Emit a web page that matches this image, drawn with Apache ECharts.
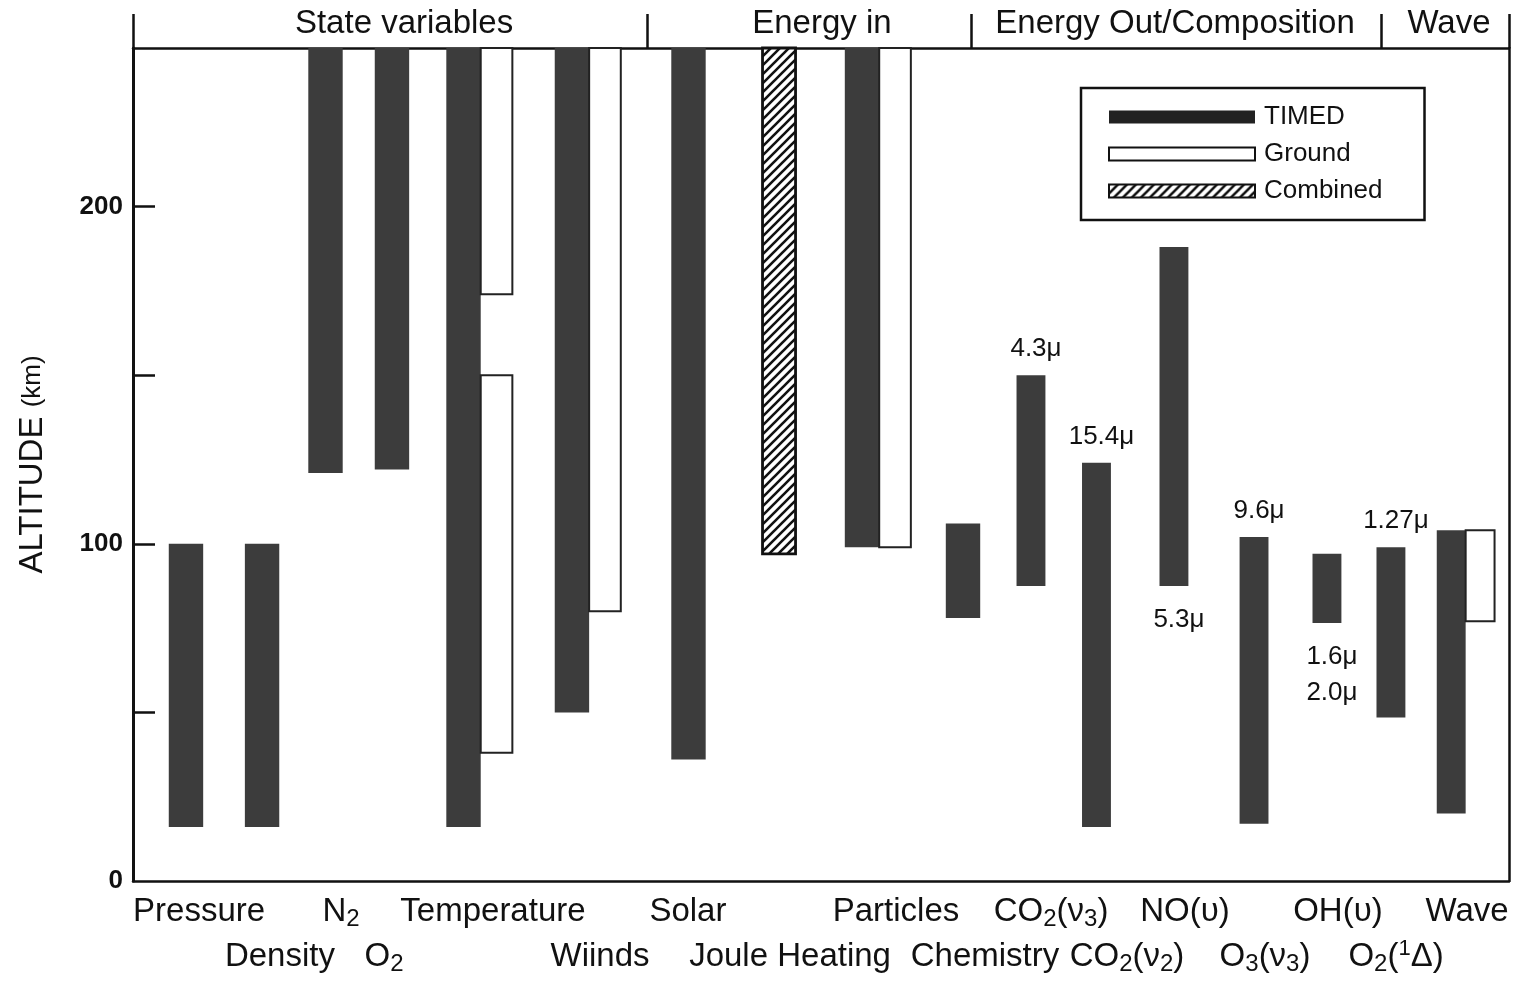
<!DOCTYPE html>
<html>
<head>
<meta charset="utf-8">
<script src="https://cdn.jsdelivr.net/npm/echarts@6/dist/echarts.min.js"></script>
<style>
html,body{margin:0;padding:0;background:#fff;}
#chart{width:1519px;height:986px;}
</style>
</head>
<body>
<div id="chart"></div>
<script>
// ---------------- data ----------------
const categories = ['Pressure','Density','N₂','O₂','Temperature','Wiinds','Solar','Joule Heating','Particles','Chemistry','CO₂(ν₃)','CO₂(ν₂)','NO(υ)','O₃(ν₃)','OH(υ)','O₂(¹Δ)','Wave'];
// TIMED altitude coverage (km)
const timedLow  = [16, 16, 121, 122, 16, 50, 36, null, 99, 78, 87.5, 16, 87.5, 17, 76.5, 48.5, 20];
const timedHigh = [100, 100, 247, 247, 247, 247, 247, null, 247, 106, 150, 124, 188, 102, 97, 99, 104];
// Ground-based coverage (km), possibly several ranges per category
const groundRanges = [[], [], [], [], [[174, 247], [38, 150]], [[80, 247]], [], [], [[99, 247]], [], [], [], [], [], [], [], [[77, 104]]];
// Combined coverage (km)
const combinedRanges = [[], [], [], [], [], [], [], [[97, 247]], [], [], [], [], [], [], [], [], []];
// wavelength annotations
const labelsAbove = ['', '', '', '', '', '', '', '', '', '', '4.3μ', '15.4μ', '', '9.6μ', '', '1.27μ', ''];
const labelsBelow = ['', '', '', '', '', '', '', '', '', '', '', '', '5.3μ', '', '1.6μ\n2.0μ', '', ''];
const groupNames = ['State variables', 'Energy in', 'Energy Out/Composition', 'Wave'];
const yTickValues = [50, 100, 150, 200];
const yLabelValues = [0, 100, 200];
const yMax = 247;

// ---------------- layout (horizontal placement in axis units 0..1000) ----------------
const slotPos = [38.5, 93.8, 139.9, 188.2, 240.2, 319.0, 403.7, 469.5, 529.8, 603.2, 652.6, 700.2, 756.5, 814.7, 867.7, 914.2, 958];
const labelPos = [48.0, 106.8, 151.2, 182.4, 261.6, 339.4, 403.3, 477.5, 554.5, 619.2, 667.2, 722.4, 764.5, 822.7, 875.7, 917.9, 969.5];
const groupBounds = [0, 373.5, 609, 907, 1000];
const groupLabelPos = [197, 500.7, 757.3, 956.4];
function barW(i) { return i >= 10 ? 21 : 25; }
function groundW(i) { return i >= 10 ? 21 : 23; }

const FONT = '"Liberation Sans", Arial, Helvetica, sans-serif';
const DARK = '#3c3c3c';
const INK = '#111111';

function hatchCanvas() {
  const s = 9;
  const c = document.createElement('canvas');
  c.width = s; c.height = s;
  const g = c.getContext('2d');
  g.fillStyle = '#ffffff'; g.fillRect(0, 0, s, s);
  g.strokeStyle = INK; g.lineWidth = 2.6;
  g.beginPath();
  g.moveTo(-1, s + 1); g.lineTo(s + 1, -1);
  g.moveTo(-s / 2 - 1, s / 2 + 1); g.lineTo(s / 2 + 1, -s / 2 - 1);
  g.moveTo(s / 2 - 1, s * 1.5 + 1); g.lineTo(s * 1.5 + 1, s / 2 - 1);
  g.stroke();
  return c;
}
const hatch = { image: hatchCanvas(), repeat: 'repeat' };

function rectOf(api, x0, x1, lo, hi) {
  const a = api.coord([x0, hi]);
  const b = api.coord([x1, lo]);
  return { x: a[0], y: a[1], width: b[0] - a[0], height: b[1] - a[1] };
}

const timedData = [];
categories.forEach((c, i) => { if (timedLow[i] != null) timedData.push([slotPos[i], timedLow[i], timedHigh[i], i]); });
const groundData = [];
groundRanges.forEach((rs, i) => rs.forEach(r => groundData.push([slotPos[i], r[0], r[1], i])));
const combinedData = [];
combinedRanges.forEach((rs, i) => rs.forEach(r => combinedData.push([slotPos[i], r[0], r[1], i])));

function richify(s) {
  return s.replace(/₂/g, '{sub|2}').replace(/₃/g, '{sub|3}').replace(/¹/g, '{sup|1}');
}
const labelRich = {
  sub: { fontSize: 24, fontFamily: FONT, color: INK, verticalAlign: 'bottom' },
  sup: { fontSize: 22, fontFamily: FONT, color: INK, verticalAlign: 'top' }
};
function labelFor(v, positions, names) {
  let best = 0, d = 1e9;
  positions.forEach((p, k) => { const dd = Math.abs(p - v); if (dd < d) { d = dd; best = k; } });
  return names[best];
}
const row1Idx = categories.map((c, i) => i).filter(i => i % 2 === 0);
const row2Idx = categories.map((c, i) => i).filter(i => i % 2 === 1);

const chart = echarts.init(document.getElementById('chart'), null, { renderer: 'canvas' });

const baseX = { type: 'value', min: 0, max: 1000, gridIndex: 0, splitLine: { show: false } };

const option = {
  animation: false,
  backgroundColor: '#ffffff',
  textStyle: { fontFamily: FONT },
  grid: { left: 133, right: 10, top: 48, bottom: 105, containLabel: false },
  legend: {
    orient: 'vertical', left: 1081, top: 88,
    padding: [16, 42, 16, 27], itemGap: 11,
    itemWidth: 146, itemHeight: 13,
    backgroundColor: '#ffffff', borderColor: INK, borderWidth: 2.5, borderRadius: 0,
    selectedMode: false,
    textStyle: { fontSize: 26, color: INK, fontFamily: FONT, padding: [0, 0, 0, 4] },
    data: [
      { name: 'TIMED', icon: 'rect', itemStyle: { color: '#222222', borderWidth: 0 } },
      { name: 'Ground', icon: 'rect', itemStyle: { color: '#ffffff', borderColor: INK, borderWidth: 2 } },
      { name: 'Combined', icon: 'rect', itemStyle: { color: hatch, borderColor: INK, borderWidth: 2 } }
    ]
  },
  xAxis: [
    Object.assign({}, baseX, {
      position: 'bottom',
      axisLine: { show: true, onZero: false, lineStyle: { color: INK, width: 2.5 } },
      axisTick: { show: false },
      axisLabel: {
        customValues: row1Idx.map(i => labelPos[i]),
        formatter: v => richify(labelFor(v, labelPos, categories)),
        fontSize: 33, color: INK, fontFamily: FONT, margin: 12, lineHeight: 38,
        rich: labelRich
      }
    }),
    Object.assign({}, baseX, {
      position: 'bottom',
      axisLine: { show: false, onZero: false },
      axisTick: { show: false },
      axisLabel: {
        customValues: row2Idx.map(i => labelPos[i]),
        formatter: v => richify(labelFor(v, labelPos, categories)),
        fontSize: 33, color: INK, fontFamily: FONT, margin: 57, lineHeight: 38,
        rich: labelRich
      }
    }),
    Object.assign({}, baseX, {
      position: 'top',
      axisLine: { show: true, onZero: false, lineStyle: { color: INK, width: 2.5 } },
      axisTick: { show: true, inside: false, length: 34, customValues: groupBounds, lineStyle: { color: INK, width: 2.5 } },
      axisLabel: {
        customValues: groupLabelPos,
        formatter: v => labelFor(v, groupLabelPos, groupNames),
        fontSize: 33, color: INK, fontFamily: FONT, margin: 8
      }
    })
  ],
  yAxis: [
    {
      type: 'value', min: 0, max: yMax, interval: 50, position: 'left',
      name: '{a|ALTITUDE} {b|(km)}', nameLocation: 'middle', nameGap: 84,
      nameTextStyle: { fontSize: 33, color: INK, fontFamily: FONT, rich: { a: { fontSize: 33, color: INK, fontFamily: FONT }, b: { fontSize: 26, color: INK, fontFamily: FONT } } },
      axisLine: { show: true, onZero: false, lineStyle: { color: INK, width: 3 } },
      axisTick: { show: true, inside: true, length: 22, customValues: yTickValues, lineStyle: { color: INK, width: 2.5 } },
      axisLabel: { customValues: yLabelValues, fontSize: 26, fontWeight: 'bold', color: INK, fontFamily: FONT, margin: 10 },
      splitLine: { show: false }
    },
    {
      type: 'value', min: 0, max: yMax, position: 'right',
      axisLine: { show: true, onZero: false, lineStyle: { color: INK, width: 2.5 } },
      axisTick: { show: false }, axisLabel: { show: false }, splitLine: { show: false }
    }
  ],
  series: [
    {
      name: 'TIMED', type: 'custom', xAxisIndex: 0, yAxisIndex: 0,
      itemStyle: { color: DARK },
      encode: { x: 0, y: [1, 2] },
      data: timedData,
      renderItem: function (params, api) {
        const xc = api.value(0), lo = api.value(1), hi = api.value(2), i = api.value(3);
        const w = barW(i);
        const shape = rectOf(api, xc - w / 2, xc + w / 2, lo, hi);
        const children = [{ type: 'rect', shape: shape, style: { fill: DARK } }];
        const cx = shape.x + shape.width / 2 + 5;
        if (labelsAbove[i]) {
          children.push({ type: 'text', style: { text: labelsAbove[i], x: cx, y: shape.y - 26, align: 'center', verticalAlign: 'middle', fontSize: 26, fontFamily: FONT, fill: INK } });
        }
        if (labelsBelow[i]) {
          children.push({ type: 'text', style: { text: labelsBelow[i], x: cx, y: shape.y + shape.height + 16, align: 'center', verticalAlign: 'top', fontSize: 26, lineHeight: 36, fontFamily: FONT, fill: INK } });
        }
        return { type: 'group', children: children };
      }
    },
    {
      name: 'Ground', type: 'custom', xAxisIndex: 0, yAxisIndex: 0,
      itemStyle: { color: '#ffffff', borderColor: INK, borderWidth: 2 },
      encode: { x: 0, y: [1, 2] },
      data: groundData,
      renderItem: function (params, api) {
        const xc = api.value(0), lo = api.value(1), hi = api.value(2), i = api.value(3);
        const x0 = xc + barW(i) / 2;
        return { type: 'rect', shape: rectOf(api, x0, x0 + groundW(i), lo, hi), style: { fill: '#ffffff', stroke: '#222222', lineWidth: 2 } };
      }
    },
    {
      name: 'Combined', type: 'custom', xAxisIndex: 0, yAxisIndex: 0,
      itemStyle: { color: hatch, borderColor: INK, borderWidth: 2 },
      encode: { x: 0, y: [1, 2] },
      data: combinedData,
      renderItem: function (params, api) {
        const xc = api.value(0), lo = api.value(1), hi = api.value(2), i = api.value(3);
        const w = barW(i) - 1;
        return { type: 'rect', shape: rectOf(api, xc - w / 2, xc + w / 2, lo, hi), style: { fill: hatch, stroke: INK, lineWidth: 2.8 } };
      }
    }
  ]
};
chart.setOption(option);
</script>
</body>
</html>
